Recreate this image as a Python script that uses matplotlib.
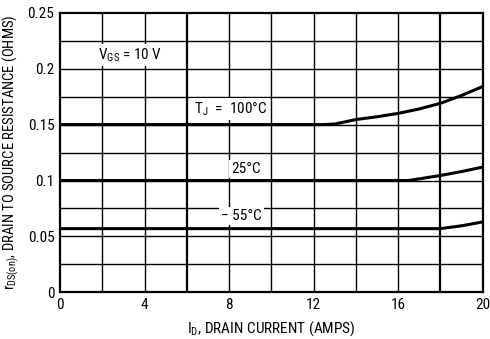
import numpy as np
import matplotlib.pyplot as plt

plt.rcParams['font.family'] = ['Roboto Condensed', 'DejaVu Sans']
plt.rcParams['mathtext.fontset'] = 'custom'
plt.rcParams['mathtext.rm'] = 'Roboto Condensed'

# drain current (amps) and rDS(on) (ohms) for each junction temp
i_100 = [0, 4, 8, 12, 12.5, 13, 14, 15, 16, 17, 18, 19, 20]
r_100 = [0.15, 0.15, 0.15, 0.15, 0.15, 0.1505, 0.1545, 0.157, 0.160, 0.164, 0.169, 0.176, 0.184]

i_25 = [0, 4, 8, 12, 16, 16.5, 17, 18, 19, 20]
r_25 = [0.1, 0.1, 0.1, 0.1, 0.1, 0.1, 0.1015, 0.1045, 0.108, 0.112]

i_m55 = [0, 4, 8, 12, 16, 18, 19, 20]
r_m55 = [0.057, 0.057, 0.057, 0.057, 0.057, 0.057, 0.0595, 0.063]

xticks = [0, 4, 8, 12, 16, 20]
yticks = [0, 0.05, 0.1, 0.15, 0.2, 0.25]
ytick_labels = ['0', '0.05', '0.1', '0.15', '0.2', '0.25']

fig = plt.figure(figsize=(4.9, 3.39), dpi=100)
ax = fig.add_axes([0.1224, 0.1375, 0.8626, 0.825])

# grid
for x in np.arange(2, 20, 2):
    lw = 1.6 if x in (6, 18) else 1.0
    ax.axvline(x, color='black', lw=lw, zorder=1)
for y in np.arange(0.025, 0.25, 0.025):
    ax.axhline(y, color='black', lw=1.0, zorder=1)

for xs, ys in [(i_100, r_100), (i_25, r_25), (i_m55, r_m55)]:
    ax.plot(xs, ys, color='black', lw=2.2, zorder=3)

box = dict(facecolor='white', edgecolor='none', pad=1.5)
ax.text(3.3, 0.212, r'V$_{\mathregular{GS}}$ = 10 V', ha='center', va='center', fontsize=11, bbox=box, zorder=4)
ax.text(8.05, 0.164, r'T$_{\mathregular{J}}$  =  100°C', ha='center', va='center', fontsize=11, bbox=box, zorder=4)
ax.text(8.8, 0.110, '25°C', ha='center', va='center', fontsize=11, bbox=box, zorder=4)
ax.text(8.6, 0.068, '− 55°C', ha='center', va='center', fontsize=11, bbox=box, zorder=4)

ax.set_xlim(0, 20)
ax.set_ylim(0, 0.25)
ax.set_xticks(xticks)
ax.set_xticklabels([str(t) for t in xticks])
ax.set_yticks(yticks)
ax.set_yticklabels(ytick_labels)
ax.tick_params(length=0, labelsize=11, pad=4)
for s in ax.spines.values():
    s.set_linewidth(1.6)

ax.set_xlabel(r'I$_{\mathregular{D}}$, DRAIN CURRENT (AMPS)', fontsize=11, labelpad=5)
ax.set_ylabel(r'r$_{\mathregular{DS(on)}}$, DRAIN TO SOURCE RESISTANCE (OHMS)', fontsize=10.5, labelpad=4)

fig.savefig('out.png', dpi=100)
